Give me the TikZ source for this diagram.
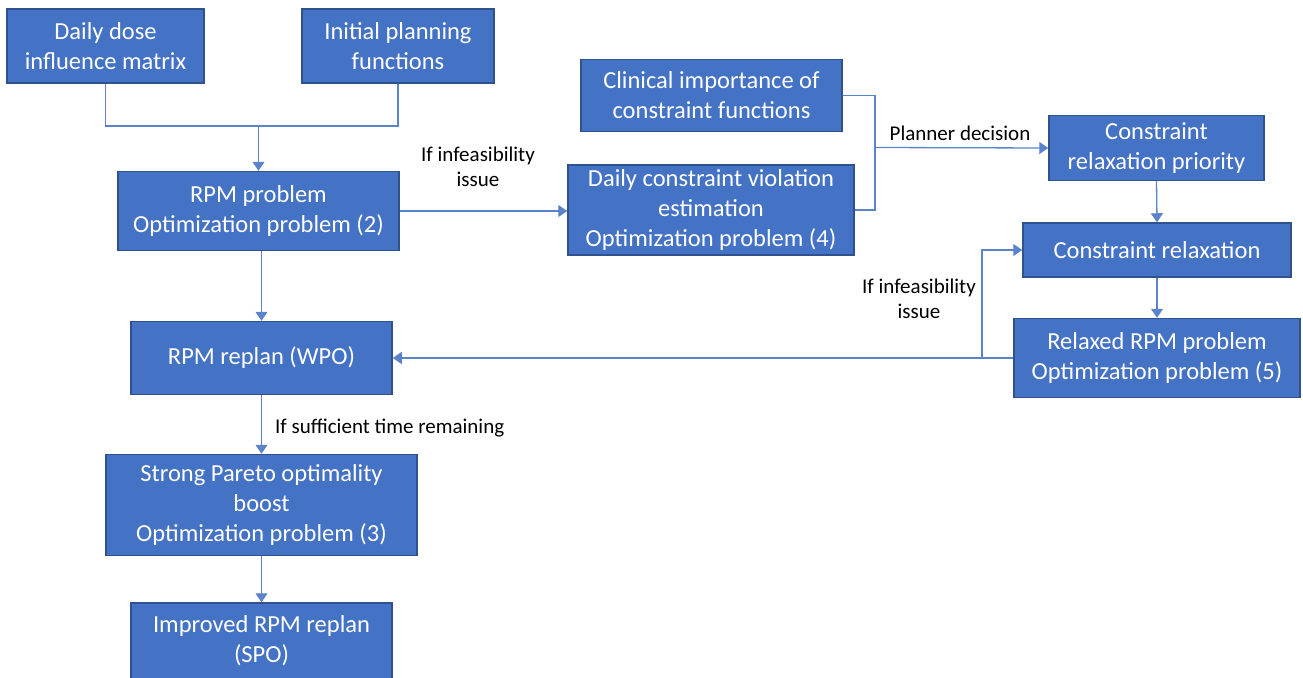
\documentclass[tikz,border=0pt]{standalone}
\usepackage{fontspec}
\setmainfont{Carlito}
\usetikzlibrary{arrows.meta}
\definecolor{boxfill}{HTML}{4472C4}
\definecolor{boxline}{HTML}{2F528F}
\definecolor{conn}{HTML}{5B83CC}
\tikzset{
  box/.style={draw=boxline, fill=boxfill, line width=1.5pt, text=white, align=center,
    inner sep=0pt, font=\fontsize{24.5}{30}\selectfont},
  lbl/.style={text=black, align=center, inner sep=0pt, font=\fontsize{21}{25.5}\selectfont},
  conline/.style={draw=conn, line width=1.3pt},
  arr/.style={conline, -{Triangle[width=12pt,length=9pt]}}
}
\begin{document}
\begin{tikzpicture}[x=1pt,y=-1pt]
\useasboundingbox (0,0) rectangle (1303,677);
\fill[white] (0,0) rectangle (1303,677);
\node[box, minimum width=197, minimum height=74] (b1) at (105.5,46) {Daily dose\\influence matrix};
\node[box, minimum width=192, minimum height=74] (b2) at (398,46) {Initial planning\\functions};
\node[box, minimum width=281, minimum height=79] (b3) at (258.5,211) {RPM problem\\Optimization problem (2)};
\node[box, minimum width=261, minimum height=72] (b4) at (711.5,95.5) {Clinical importance of\\constraint functions};
\node[box, minimum width=286, minimum height=90] (b5) at (711,210) {Daily constraint violation\\estimation\\Optimization problem (4)};
\node[box, minimum width=215, minimum height=65] (b6) at (1156.5,148) {Constraint\\relaxation priority};
\node[box, minimum width=268, minimum height=54] (b7) at (1157,250) {Constraint relaxation};
\node[box, minimum width=286, minimum height=79] (b8) at (1157,358) {Relaxed RPM problem\\Optimization problem (5)};
\node[box, minimum width=261, minimum height=73] (b9) at (261.5,358) {RPM replan (WPO)};
\node[box, minimum width=311, minimum height=101] (b10) at (261.5,505) {Strong Pareto optimality\\boost\\Optimization problem (3)};
\node[box, minimum width=261, minimum height=76] (b11) at (261.5,641) {Improved RPM replan\\(SPO)};

\coordinate (j) at (258.5,126);
\coordinate (k) at (875,147.5);
\coordinate (m) at (982,358);

\draw[conline] (b1.south) |- (j) -| (b2.south);
\draw[arr] (j) -- (b3.north);
\draw[arr] (b3.east) -- (b3.east -| b5.west);
\draw[conline] (b4.east) -| (k);
\draw[conline] (b5.east) -| (k);
\draw[arr] (k) -- (b6.west);
\draw[arr] (b6.south) -- (b7.north);
\draw[arr] (b7.south) -- (b8.north);
\draw[arr] (b8.west) -- (b9.east);
\draw[arr] (m) |- (b7.west);
\draw[arr] (b3.south -| b9.north) -- (b9.north);
\draw[arr] (b9.south) -- (b10.north);
\draw[arr] (b10.south) -- (b11.north);

\node[lbl] (l1) at (478,167) {If infeasibility\\issue};
\node[lbl] (l2) at (960,133) {Planner decision};
\node[lbl] (l3) at (919,299) {If infeasibility\\issue};
\node[lbl, anchor=west] (l4) at (275,428) {If sufficient time remaining};
\end{tikzpicture}
\end{document}
